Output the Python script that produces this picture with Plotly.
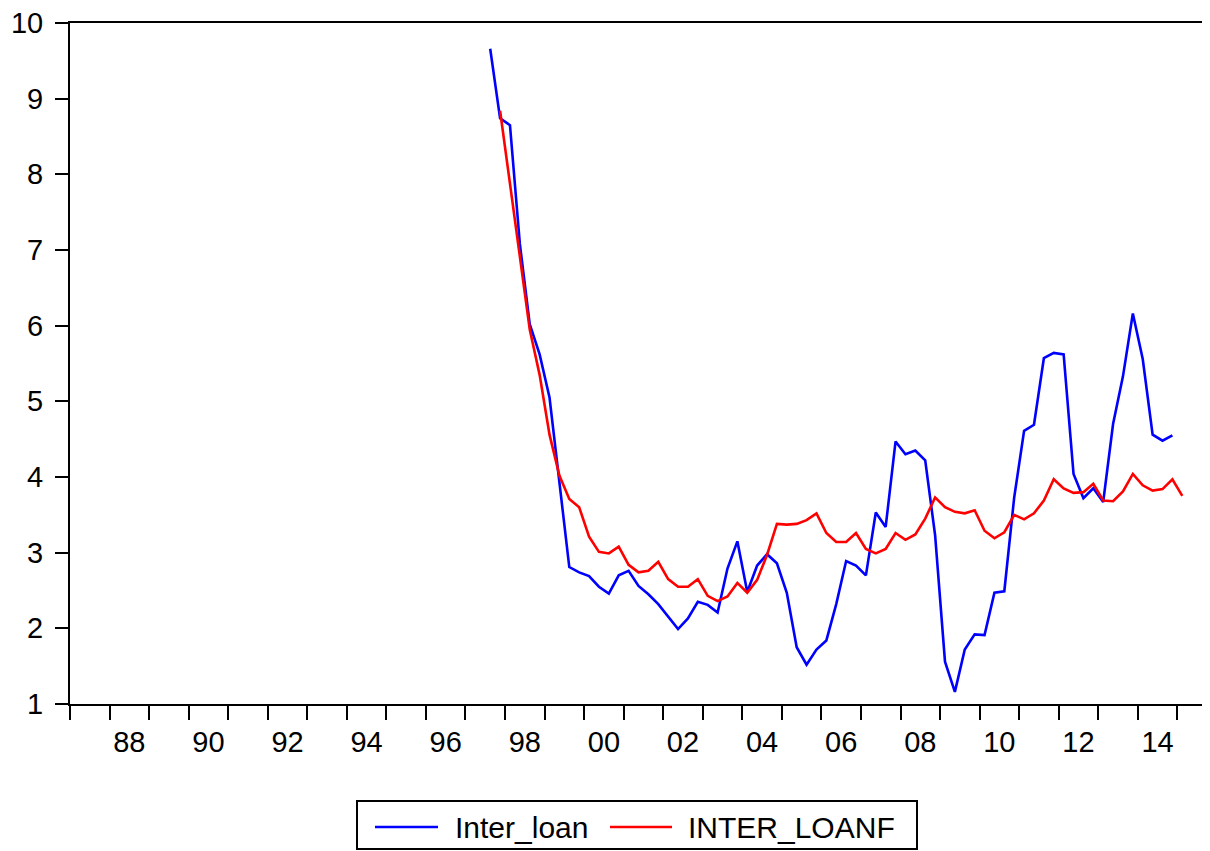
import plotly.graph_objects as go

# ---- data (quarterly) ----
inter_loan_start = "1997Q3"
inter_loan = [9.66, 8.74,
              8.65, 7.08, 6.02, 5.62,
              5.05, 3.92, 2.81, 2.74,
              2.69, 2.55, 2.46, 2.70,
              2.76, 2.56, 2.45, 2.32,
              2.16, 1.99, 2.13, 2.35,
              2.31, 2.21, 2.79, 3.15,
              2.48, 2.83, 2.98, 2.86,
              2.47, 1.75, 1.52, 1.72,
              1.84, 2.32, 2.89, 2.83,
              2.70, 3.53, 3.34, 4.47,
              4.30, 4.35, 4.22, 3.23,
              1.56, 1.16, 1.72, 1.92,
              1.91, 2.47, 2.49, 3.73,
              4.61, 4.69, 5.57, 5.64,
              5.62, 4.04, 3.72, 3.85,
              3.67, 4.70, 5.33, 6.16,
              5.56, 4.56, 4.48, 4.55]

inter_loanf_start = "1997Q4"
inter_loanf = [8.84,
               7.88, 6.92, 5.95, 5.35,
               4.56, 4.02, 3.71, 3.60,
               3.21, 3.01, 2.99, 3.08,
               2.84, 2.74, 2.76, 2.88,
               2.65, 2.55, 2.55, 2.65,
               2.43, 2.36, 2.42, 2.60,
               2.47, 2.64, 2.97, 3.38,
               3.37, 3.38, 3.43, 3.52,
               3.26, 3.14, 3.14, 3.26,
               3.05, 2.99, 3.05, 3.26,
               3.17, 3.24, 3.45, 3.73,
               3.60, 3.54, 3.52, 3.56,
               3.29, 3.19, 3.27, 3.50,
               3.44, 3.52, 3.69, 3.97,
               3.85, 3.79, 3.80, 3.91,
               3.69, 3.68, 3.81, 4.04,
               3.89, 3.82, 3.84, 3.97,
               3.75]

label_years = list(range(1988, 2015, 2))
label_text = [f"{y % 100:02d}" for y in label_years]
y_ticks = list(range(1, 11))


def quarter_positions(start, n):
    y, q = int(start[:4]), int(start[-1])
    out = []
    for i in range(n):
        qq = q - 1 + i
        out.append(y + qq // 4 + ((qq % 4) + 0.5) / 4)
    return out


FONT = "Arial, 'Liberation Sans', sans-serif"

fig = go.Figure()
fig.add_trace(go.Scatter(x=quarter_positions(inter_loan_start, len(inter_loan)), y=inter_loan,
                         mode="lines", name="Inter_loan",
                         line=dict(color="#0000FF", width=2.6), showlegend=False))
fig.add_trace(go.Scatter(x=quarter_positions(inter_loanf_start, len(inter_loanf)), y=inter_loanf,
                         mode="lines", name="INTER_LOANF",
                         line=dict(color="#FF0000", width=2.6), showlegend=False))

# the page has an 8px body margin, so the figure sits at (8, 8) in the window
fig.update_layout(
    width=1202, height=843,
    margin=dict(l=62, r=3, t=15, b=147),
    paper_bgcolor="white", plot_bgcolor="white",
    font=dict(family=FONT, color="black"),
    showlegend=False,
)
fig.update_xaxes(
    range=[1987, 2015.75], automargin=False,
    tickmode="array", tickvals=[y + 0.5 for y in label_years], ticktext=label_text,
    ticks="", tickfont=dict(size=29, family=FONT, color="black"),
    ticklabelstandoff=11, ticklabeloverflow="allow",
    minor=dict(tickmode="linear", tick0=1987, dtick=1, ticks="outside", ticklen=14,
               tickwidth=1.5, tickcolor="black", showgrid=False),
    showgrid=False, zeroline=False,
    showline=True, linecolor="black", linewidth=2, mirror=True,
)
fig.update_yaxes(
    range=[1, 10], automargin=False, tickmode="array", tickvals=y_ticks,
    ticks="outside", ticklen=13, tickwidth=1.5, tickcolor="black",
    tickfont=dict(size=29, family=FONT, color="black"),
    ticklabelstandoff=6, ticklabeloverflow="allow",
    showgrid=False, zeroline=False,
    showline=True, linecolor="black", linewidth=2, mirror=True,
)

# ---- legend drawn below the plot (window pixels -> paper coordinates) ----
def px_x(p):
    return (p - 70) / 1137.0


def px_y(p):
    return (704 - p) / 681.0


fig.add_shape(type="rect", xref="paper", yref="paper",
              x0=px_x(357), x1=px_x(917), y0=px_y(849), y1=px_y(801),
              line=dict(color="black", width=2), fillcolor="white", layer="above")
legend_items = [("Inter_loan", "#0000FF", 375, 438, 453),
                ("INTER_LOANF", "#FF0000", 610, 672, 686)]
for name, col, lx0, lx1, tx in legend_items:
    fig.add_shape(type="line", xref="paper", yref="paper",
                  x0=px_x(lx0), x1=px_x(lx1), y0=px_y(827), y1=px_y(827),
                  line=dict(color=col, width=2.4))
    fig.add_annotation(xref="paper", yref="paper", x=px_x(tx), y=px_y(827),
                       text=name, showarrow=False, xanchor="left", yanchor="middle",
                       font=dict(size=30, family=FONT, color="black"))

fig.write_html("out.html")
